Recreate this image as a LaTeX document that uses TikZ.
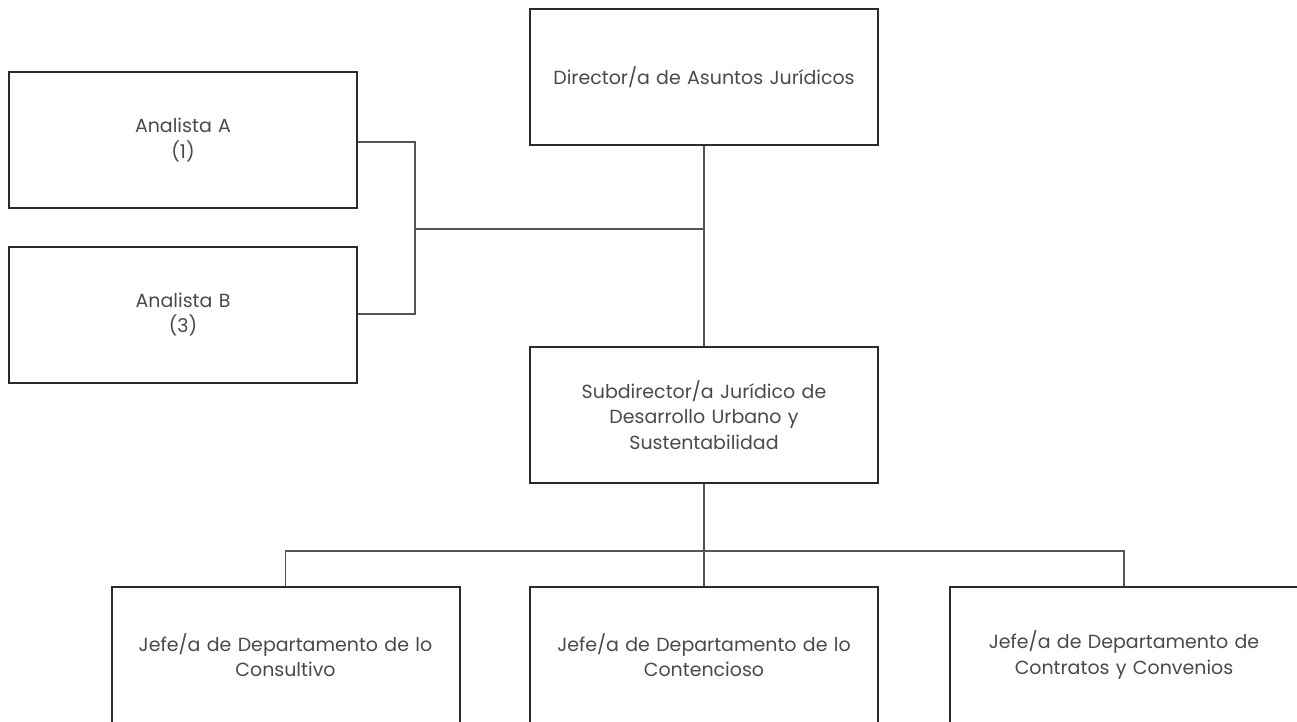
\documentclass[tikz,border=0pt]{standalone}
\usepackage{fontspec}
\setmainfont{Poppins}
\definecolor{boxline}{HTML}{2B2B2B}
\definecolor{conn}{HTML}{555555}
\definecolor{txt}{HTML}{4A4A4A}
\begin{document}
\begin{tikzpicture}[x=1pt,y=-1pt,
  orgbox/.style={draw=boxline, line width=2pt, fill=white, minimum width=348pt, minimum height=136pt,
    text width=330pt, align=center, text=txt, font=\fontsize{19}{25.5}\selectfont, inner sep=0pt},
  link/.style={draw=conn, line width=1.3pt}]
\useasboundingbox (0,0) rectangle (1297,721);
\clip (0,0) rectangle (1297,721);
\node[orgbox] (dir) at (704,77) {Director/a de Asuntos Jurídicos};
\node[orgbox] (anA) at (183,140) {Analista A\\(1)};
\node[orgbox] (anB) at (183,314.5) {Analista B\\(3)};
\node[orgbox] (sub) at (704,415) {Subdirector/a Jurídico de\\Desarrollo Urbano y\\Sustentabilidad};
\node[orgbox] (j1) at (285.5,655) {Jefe/a de Departamento de lo\\Consultivo};
\node[orgbox] (j2) at (704,655) {Jefe/a de Departamento de lo\\Contencioso};
\node[orgbox] (j3) at (1124,655) {Jefe/a de Departamento de\\Contratos y Convenios};
\coordinate (jA) at (415,229);
\coordinate (jB) at (704,551);
\draw[link] (dir.south) -- (sub.north);
\draw[link] (anA.east |- 0,142) -| (jA) -- (dir.south |- jA);
\draw[link] (anB.east |- 0,314) -| (jA);
\draw[link] (sub.south) -- (jB);
\draw[link] (j1.north) |- (jB) -| (j3.north);
\draw[link] (jB) -- (j2.north);
\end{tikzpicture}
\end{document}
